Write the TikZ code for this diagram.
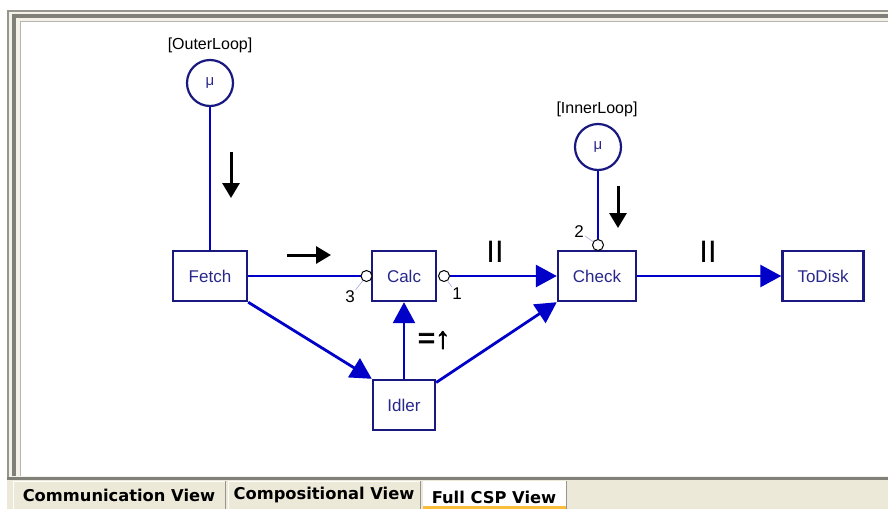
\documentclass[tikz,border=0pt]{standalone}
\usepackage{fontspec}
\setmainfont{Liberation Sans}
\newfontfamily\tabfont{DejaVu Sans}
\newfontfamily\heavyfont{Liberation Sans}[FakeBold=2.5]
\usepackage{xcolor}
\usetikzlibrary{arrows.meta}

\definecolor{boxnavy}{RGB}{24,24,128}
\definecolor{textnavy}{RGB}{40,40,140}
\definecolor{wireblue}{RGB}{0,0,200}
\definecolor{framegray}{RGB}{150,150,142}
\definecolor{framedark}{RGB}{128,128,120}
\definecolor{framecream}{RGB}{244,242,232}
\definecolor{tabbeige}{RGB}{236,233,216}
\definecolor{taborange}{RGB}{250,190,60}

\begin{document}
\begin{tikzpicture}[x=1pt,y=-1pt]

			\tikzstyle{process} = [draw=boxnavy,line width=2.4pt,fill=white,minimum height=50pt,text=textnavy,font=\fontsize{17}{19}\selectfont]
			\tikzstyle{loopnode} = [circle,draw=boxnavy,line width=2.2pt,fill=white,minimum size=46pt,inner sep=0pt,text=textnavy,font=\fontsize{15}{17}\selectfont]
			\tikzstyle{port} = [circle,draw=black,fill=white,line width=1pt,minimum size=11pt,inner sep=0pt]
			\tikzstyle{portlabel} = [inner sep=1pt,font=\fontsize{17}{19}\selectfont]
			\tikzstyle{leader} = [draw=wireblue!35,line width=0.6pt]
			\tikzstyle{wire} = [draw=wireblue,line width=2.8pt]
			\tikzstyle{loopwire} = [draw=wireblue,line width=2.2pt]
			\tikzstyle{flow} = [wire,-{Triangle[length=21pt,width=22pt]}]
			\tikzstyle{hint} = [black,line width=3pt,-{Triangle[length=15pt,width=17pt]}]
			\tikzstyle{parlabel} = [font=\fontsize{31}{31}\selectfont]
			\tikzstyle{tablabel} = [font=\tabfont\bfseries\fontsize{16.3}{18}\selectfont]

			\useasboundingbox (0,0) rectangle (888,509);
			\fill[white] (0,0) rectangle (888,509);

			% window frame
			\fill[framecream] (7,10) rectangle (888,480);
			\draw[framegray,line width=1.5pt] (7.75,480) -- (7.75,10.75) -- (888,10.75);
			\fill[framedark] (12,14) rectangle (888,18);
			\fill[framedark] (12,14) rectangle (16,476);
			\draw[framegray!70,line width=1.5pt] (20.25,476) -- (20.25,21.25) -- (888,21.25);
			\fill[white] (21,22) rectangle (888,476);

			% tab bar
			\fill[tabbeige] (7,478) rectangle (888,509);
			\draw[framedark,line width=3pt] (7,478.5) -- (888,478.5);
			\draw[white,line width=1pt] (13,509) -- (13,481) -- (225,481);
			\draw[framegray,line width=1pt] (225.5,481) -- (225.5,509);
			\draw[white,line width=1pt] (228,509) -- (228,481) -- (420,481);
			\draw[framegray,line width=1pt] (420.5,481) -- (420.5,509);
			\fill[white] (423,481) rectangle (566,509);
			\draw[framegray,line width=1pt] (566,481) -- (566,509);
			\draw[taborange,line width=3pt] (423,507.5) -- (566,507.5);
			\node[tablabel] (commtab) at (119,495) {Communication View};
			\node[tablabel] (comptab) at (324,495) {Compositional View};
			\node[tablabel] (fulltab) at (494,497) {Full CSP View};

			% processes
			\node[process,minimum width=74pt] (fetch) at (210,276) {Fetch};
			\node[process,minimum width=64pt] (calc) at (404,276) {Calc};
			\node[process,minimum width=78pt] (check) at (597,276) {Check};
			\node[process,minimum width=81pt] (todisk) at (823,276) {ToDisk};
			\node[process,minimum width=62pt] (idler) at (404,405) {Idler};

			% loops
			\node[loopnode] (outerloop) at (210,83) {μ};
			\node (outerlbl) at (210,45) {\fontsize{16}{18}\selectfont [OuterLoop]};
			\node[loopnode] (innerloop) at (598,147) {μ};
			\node (innerlbl) at (597,109) {\fontsize{16}{18}\selectfont [InnerLoop]};

			% ports
			\node[port] (calcin) at (366.5,276) {};
			\node[port] (calcout) at (444,276) {};
			\node[port] (checkin) at (598,245) {};
			\node[portlabel] (calcinlbl) at (350,297) {3};
			\node[portlabel] (calcoutlbl) at (457,294) {1};
			\node[portlabel] (checkinlbl) at (579,232) {2};
			\draw[leader] (calcin) -- (calcinlbl);
			\draw[leader] (calcout) -- (calcoutlbl);
			\draw[leader] (checkin) -- (checkinlbl);

			% connectors
			\draw[loopwire] (outerloop) -- (fetch);
			\draw[loopwire] (innerloop) -- (checkin);
			\draw[wire] (fetch) -- (calcin);
			\draw[flow] (calcout) -- (check);
			\draw[flow] (check) -- (todisk);
			\draw[flow] (fetch.south east) -- (idler.north west);
			\draw[flow] (idler) -- (calc);
			\draw[flow] (idler.35) -- (check.south west);

			% annotations
			\draw[hint] (231,152) -- (231,198);
			\draw[hint] (287,255) -- (331,255);
			\draw[hint] (618,186) -- (618,228);
			\node[parlabel] (par1) at (495,252) {II};
			\node[parlabel] (par2) at (708,252) {II};
			\node[font=\heavyfont\fontsize{30}{30}\selectfont] (seqlbl) at (434,340) {=↑};

\end{tikzpicture}
\end{document}
